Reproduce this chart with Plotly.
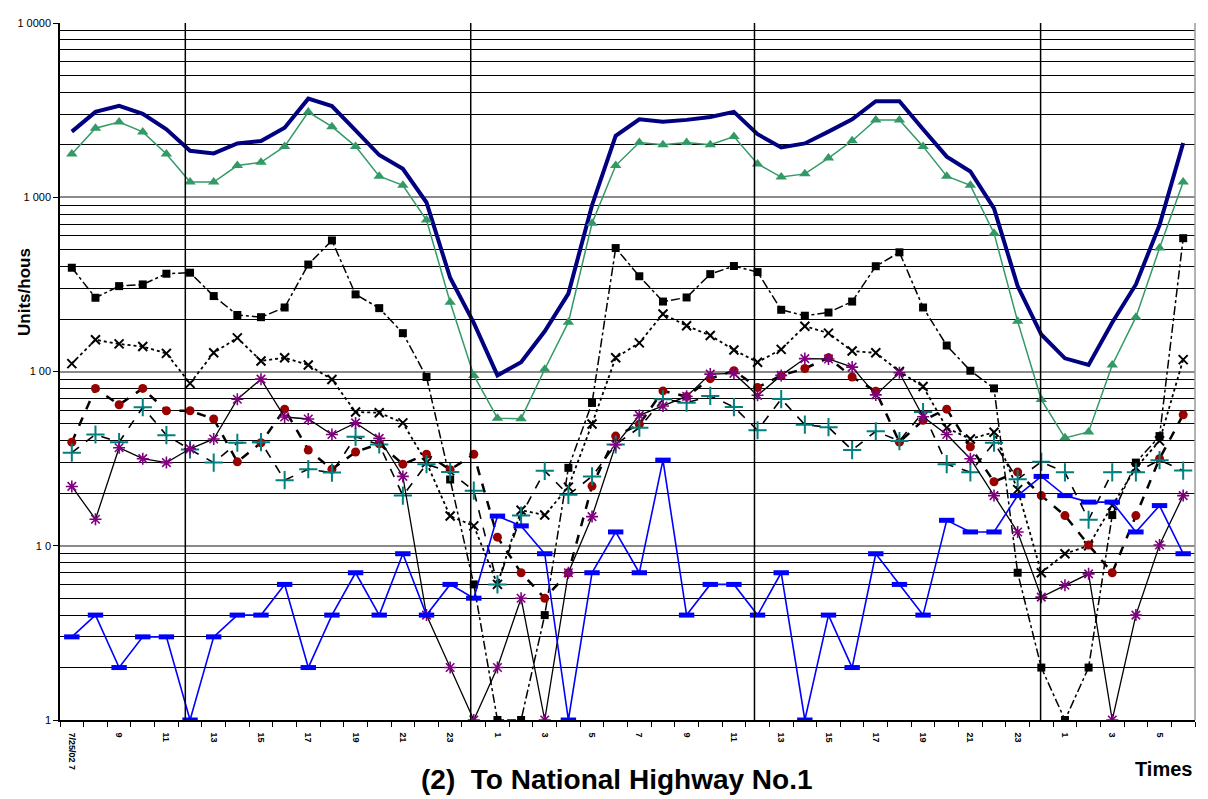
import plotly.graph_objects as go

# ---------------- data ----------------
hour_labels = ["7/25/02 7", "8", "9", "10", "11", "12", "13", "14", "15", "16", "17", "18",
               "19", "20", "21", "22", "23", "0", "1", "2", "3", "4", "5", "6",
               "7", "8", "9", "10", "11", "12", "13", "14", "15", "16", "17", "18",
               "19", "20", "21", "22", "23", "0", "1", "2", "3", "4", "5", "6"]

total = [2380, 3090, 3345, 3013, 2457, 1849, 1785, 2036, 2100, 2508, 3680, 3335,
         2423, 1747, 1456, 933, 345, 190, 95, 113, 170, 280, 900, 2250,
         2800, 2716, 2780, 2885, 3090, 2300, 1932, 2036, 2380, 2800, 3557, 3557,
         2457, 1710, 1406, 863, 309, 163, 119, 109, 191, 316, 693, 2046]

green_tri = [1771, 2488, 2702, 2371, 1771, 1222, 1222, 1520, 1588, 1958, 3080, 2540,
             1958, 1321, 1170, 740, 250, 95, 54, 53.6, 103, 192, 709, 1520,
             2061, 2000, 2061, 2000, 2230, 1553, 1306, 1362, 1679, 2109, 2774, 2774,
             1958, 1321, 1170, 622, 194, 69, 41.6, 45, 109, 205, 511, 1222]

black_sq = [394, 265, 309, 316, 364, 369, 271, 211, 205, 233, 411, 565,
            277, 231, 166, 93, 24, 6, 1, 1, 4, 28, 66, 511,
            352, 252, 266, 362, 403, 372, 226, 209, 218, 252, 402, 483,
            233, 141, 101, 80, 7, 2, 1, 2, 15, 30, 42.6, 582]

black_x = [111, 152, 144, 139, 127, 85.5, 128, 156, 115, 120, 109, 90,
           58.5, 58, 50.7, 30, 14.8, 13, 6, 16, 15, 21.7, 50, 120,
           146, 214, 183, 161, 133, 113, 134, 182, 166, 131, 128, 100,
           82, 47.5, 41, 44.8, 21, 7, 9, 10, 17, 28, 40, 117]

red_circ = [39.3, 80, 64.4, 80, 59.5, 59.5, 53.4, 30.3, 39, 60.8, 35.4, 27.5,
            34.5, 38.5, 29.4, 33.5, 27.3, 33.5, 11.2, 7, 5, 7, 22, 42.6,
            49.8, 77.4, 71.8, 91, 101, 81, 95, 104, 120, 93, 77, 39.3,
            52.5, 60.8, 37, 23.3, 26.5, 19.4, 14.9, 10.1, 7, 14.9, 31.6, 56.5]

teal_plus = [34.2, 43.5, 39.3, 62.4, 43.1, 35.7, 30, 39, 39.3, 23.8, 27.5, 26.3,
             42.2, 38.1, 19.4, 29.4, 26.5, 20.7, 6, 14.9, 26.9, 19.6, 25, 38.1,
             47.6, 69.2, 66.2, 72.4, 62.5, 46, 69.5, 49.5, 47.9, 35.4, 45.4, 39.9,
             58.5, 29.4, 26.4, 39, 24.1, 30.3, 26.4, 14.1, 26.4, 26.4, 31, 27]

purple_star = [21.9, 14.2, 36.5, 31.6, 30, 36, 41, 69.3, 90.4, 54.8, 53.4, 43.5,
               50.7, 41.3, 25, 4, 2, 1, 2, 5, 1, 7, 14.7, 38,
               56, 63.4, 72, 96.6, 97.5, 73, 95, 118.6, 118, 106, 73.4, 98.4,
               55, 43.5, 31.6, 19.4, 12, 5.07, 5.93, 6.9, 1, 4, 10.1, 19.4]

blue_bar = [3, 4, 2, 3, 3, 1, 3, 4, 4, 6, 2, 4,
            7, 4, 9, 4, 6, 5, 14.8, 13, 9, 1, 7, 12,
            7, 31, 4, 6, 6, 4, 7, 1, 4, 2, 9, 6,
            4, 14, 12, 12, 19.4, 25, 19.4, 17.8, 17.8, 12, 17, 9]

y_major = [1, 10, 100, 1000, 10000]
y_major_text = ["1", "1 0", "1 00", "1 000", "1 0000"]
day_dividers = [4.8, 16.87, 28.87, 40.97]   # noon / midnight markers

# ---------------- figure ----------------
xs = list(range(len(hour_labels)))
fig = go.Figure()

def add(series, color, width, dash, symbol, msize, mcolor, mline=0, mode="lines+markers"):
    fig.add_trace(go.Scatter(
        x=xs, y=series, mode=mode,
        line=dict(color=color, width=width, dash=dash),
        marker=dict(symbol=symbol, size=msize, color=mcolor,
                    line=dict(color=mcolor, width=mline)),
        hoverinfo="skip"))

add(total, "#000080", 4, "solid", "circle", 1, "#000080", mode="lines")
add(green_tri, "#339966", 1.5, "solid", "triangle-up", 10, "#339966")
add(black_sq, "black", 1.5, "dashdot", "square", 8, "black")
add(black_x, "black", 1.8, "dot", "x-thin-open", 9, "black", 2)
add(red_circ, "black", 2.5, "dash", "circle", 9, "#990000")
add(teal_plus, "black", 1.6, "dash", "cross-thin-open", 13, "#008080", 2)
add(purple_star, "black", 1.3, "solid", "asterisk-open", 10, "#800080", 1.6)
add(blue_bar, "#0000ff", 1.6, "solid", "line-ew-open", 11, "#0000ff", 5)

minor_vals = [m * d for d in (1, 10, 100, 1000) for m in range(2, 10)]
boundaries = [i - 0.5 for i in range(len(hour_labels) + 1)]
even_idx = xs[::2]

fig.update_xaxes(
    range=[-0.5, len(hour_labels) - 0.5],
    tickmode="array", tickvals=even_idx,
    ticktext=["<b>" + hour_labels[i] + "</b>" for i in even_idx],
    tickangle=90, ticks="", showgrid=False, zeroline=False,
    ticklabelstandoff=9,
    tickfont=dict(family="Liberation Sans, Arial", size=9, color="black"),
    showline=True, linecolor="black", linewidth=1.5,
    minor=dict(tickmode="array", tickvals=boundaries, ticks="outside",
               ticklen=5, tickcolor="black", tickwidth=1, showgrid=False),
)
fig.update_yaxes(
    type="log", range=[0, 4],
    tickmode="array", tickvals=y_major, ticktext=y_major_text,
    ticks="outside", ticklen=5, tickcolor="black",
    tickfont=dict(family="Liberation Sans, Arial", size=11, color="black"),
    showgrid=True, gridcolor="#8a8a8a", gridwidth=2,
    showline=True, linecolor="black", linewidth=1.5, zeroline=False,
    minor=dict(tickmode="array", tickvals=minor_vals, showgrid=True,
               gridcolor="black", gridwidth=1, ticks=""),
)

for xv in day_dividers:
    fig.add_shape(type="line", xref="x", yref="paper", x0=xv, x1=xv, y0=0, y1=1,
                  line=dict(color="black", width=1.5), layer="above")
fig.add_shape(type="line", xref="paper", yref="paper", x0=1, x1=1, y0=0, y1=1,
              line=dict(color="#9a9a9a", width=1.5))

fig.add_annotation(text="<b>Units/hous</b>", xref="paper", yref="paper",
                   x=-0.0315, y=0.6145, textangle=-90, showarrow=False,
                   xanchor="center", yanchor="middle",
                   font=dict(family="Liberation Sans, Arial", size=17, color="black"))
fig.add_annotation(text="<b>(2)  To National Highway No.1</b>", xref="paper", yref="paper",
                   x=0.491, y=-0.0853, xanchor="center", yanchor="middle", showarrow=False,
                   font=dict(family="Liberation Sans, Arial", size=28, color="black"))
fig.add_annotation(text="<b>Times</b>", xref="paper", yref="paper",
                   x=0.972, y=-0.0697, xanchor="center", yanchor="middle", showarrow=False,
                   font=dict(family="Liberation Sans, Arial", size=20, color="black"))

# the page body adds an 8px offset, so the figure is 8px smaller than the window
fig.update_layout(width=1200, height=791, margin=dict(l=46, r=13, t=9, b=79),
                  plot_bgcolor="white", paper_bgcolor="white", showlegend=False)

fig.write_html("out.html")
